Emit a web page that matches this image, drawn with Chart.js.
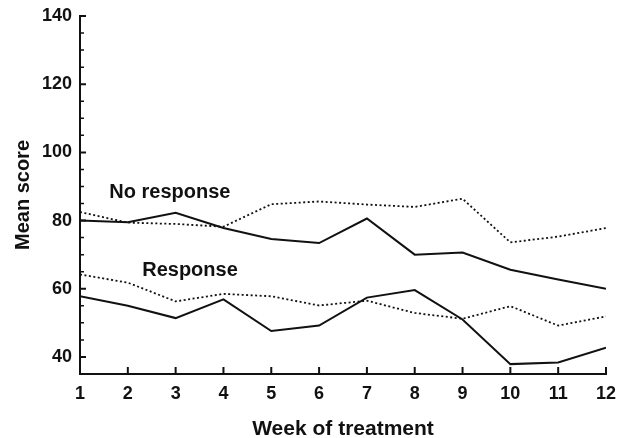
<!DOCTYPE html>
<html>
<head>
<meta charset="utf-8">
<script src="https://cdn.jsdelivr.net/npm/chart.js@4"></script>
<style>
  html, body { margin: 0; padding: 0; background: #fff; }
  #wrap { width: 621px; height: 438px; }
</style>
</head>
<body>
<div id="wrap"><canvas id="scoreChart" width="621" height="438"></canvas></div>
<script>
// weeks of treatment
const weeks = [1, 2, 3, 4, 5, 6, 7, 8, 9, 10, 11, 12];

// mean scores
const noResponseSolid = [80, 79.5, 82.3, 77.8, 74.6, 73.4, 80.6, 70, 70.6, 65.6, 62.7, 60];
const noResponseDotted = [82.5, 79.4, 79, 78.2, 84.8, 85.6, 84.7, 84, 86.4, 73.6, 75.3, 77.8];
const responseSolid = [57.8, 55, 51.4, 56.9, 47.6, 49.2, 57.4, 59.6, 51, 37.9, 38.4, 42.7];
const responseDotted = [64.2, 61.8, 56.3, 58.5, 57.8, 55.1, 56.5, 52.9, 51.2, 54.9, 49.2, 51.9];

const yTickLabels = [40, 60, 80, 100, 120, 140];
const yMinorTicks = [45, 50, 55, 65, 70, 75, 85, 90, 95, 105, 110, 115, 125, 130, 135];

// group labels placed in data coordinates
const groupLabels = ['No response', 'Response'];
const groupLabelX = [2.88, 3.3];
const groupLabelY = [88.2, 65.3];

const FONT = '"Liberation Sans", Arial, Helvetica, sans-serif';

const line = (data, dotted) => ({
  data: weeks.map((w, i) => ({ x: w, y: data[i] })),
  borderColor: '#111',
  borderWidth: dotted ? 1.8 : 2,
  borderDash: dotted ? [2, 2.5] : [],
  pointRadius: 0,
  tension: 0,
  fill: false,
});

// inward tick marks + text labels
const extras = {
  id: 'extras',
  afterDraw(chart) {
    const { ctx, scales: { x, y } } = chart;
    ctx.save();
    ctx.strokeStyle = '#111';
    ctx.lineWidth = 2;
    ctx.beginPath();
    yTickLabels.forEach(v => {
      const py = y.getPixelForValue(v);
      ctx.moveTo(x.left, py);
      ctx.lineTo(x.left + 6, py);
    });
    weeks.forEach(w => {
      const px = x.getPixelForValue(w);
      ctx.moveTo(px, y.bottom);
      ctx.lineTo(px, y.bottom - 7);
    });
    ctx.stroke();
    ctx.lineWidth = 1.5;
    ctx.beginPath();
    yMinorTicks.forEach(v => {
      const py = y.getPixelForValue(v);
      ctx.moveTo(x.left, py);
      ctx.lineTo(x.left + 4, py);
    });
    ctx.stroke();

    ctx.fillStyle = '#111';
    ctx.font = 'bold 20px ' + FONT;
    ctx.textAlign = 'center';
    ctx.textBaseline = 'middle';
    groupLabels.forEach((t, i) => {
      ctx.fillText(t, x.getPixelForValue(groupLabelX[i]), y.getPixelForValue(groupLabelY[i]));
    });
    ctx.restore();
  }
};

new Chart(document.getElementById('scoreChart'), {
  type: 'line',
  data: {
    datasets: [
      line(noResponseSolid, false),
      line(noResponseDotted, true),
      line(responseSolid, false),
      line(responseDotted, true),
    ],
  },
  options: {
    responsive: false,
    animation: false,
    layout: { padding: { top: 16, right: 15, left: 0, bottom: 0 } },
    plugins: {
      legend: { display: false },
      tooltip: { enabled: false },
    },
    scales: {
      x: {
        type: 'linear',
        min: 1,
        max: 12,
        afterFit: (s) => { s.height = 64; s.paddingLeft = 0; s.paddingRight = 0; },
        afterBuildTicks: (s) => { s.ticks = weeks.map(v => ({ value: v })); },
        grid: { display: false, drawTicks: false },
        border: { display: true, color: '#111', width: 2 },
        ticks: {
          color: '#111',
          padding: 9,
          font: { family: FONT, size: 18, weight: 'bold' },
        },
        title: {
          display: true,
          text: 'Week of treatment',
          color: '#111',
          padding: { top: 0, bottom: -4 },
          font: { family: FONT, size: 21, weight: 'bold' },
        },
      },
      y: {
        min: 35,
        max: 140,
        afterFit: (s) => { s.width = 80; s.paddingTop = 0; s.paddingBottom = 0; },
        afterBuildTicks: (s) => { s.ticks = yTickLabels.map(v => ({ value: v })); },
        grid: { display: false, drawTicks: false },
        border: { display: true, color: '#111', width: 2 },
        ticks: {
          color: '#111',
          padding: 8,
          font: { family: FONT, size: 18, weight: 'bold' },
        },
        title: {
          display: true,
          text: 'Mean score',
          color: '#111',
          padding: { top: 11, bottom: 6 },
          font: { family: FONT, size: 20, weight: 'bold' },
        },
      },
    },
  },
  plugins: [extras],
});
</script>
</body>
</html>
